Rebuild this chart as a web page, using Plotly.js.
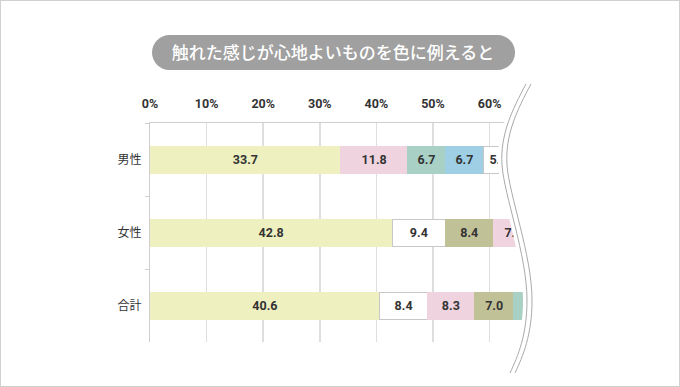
<!DOCTYPE html>
<html>
<head>
<meta charset="utf-8">
<script src="https://cdn.plot.ly/plotly-3.0.1.min.js"></script>
<style>
html,body{margin:0;padding:0;background:#fff;}
#wrap{position:relative;width:680px;height:387px;}
#chart{width:680px;height:387px;}
#frame{position:absolute;left:0;top:0;width:680px;height:387px;box-sizing:border-box;border:1px solid #d0d0d0;pointer-events:none;}
</style>
</head>
<body>
<div id="wrap"><div id="chart"></div><div id="frame"></div></div>
<script>
// ---- data ----
const titleText = '触れた感じが心地よいものを色に例えると';
const categories = ['男性', '女性', '合計'];
// segments in drawing order (largest first within each row)
const seg1Values = [33.7, 42.8, 40.6];
const seg1Colors = ['yellow', 'yellow', 'yellow'];
const seg2Values = [11.8, 9.4, 8.4];
const seg2Colors = ['pink', 'white', 'white'];
const seg3Values = [6.7, 8.4, 8.3];
const seg3Colors = ['teal', 'olive', 'pink'];
const seg4Values = [6.7, 7.2, 7.0];
const seg4Colors = ['blue', 'pink', 'olive'];
const seg5Values = [5.3, 6.0, 6.5];
const seg5Colors = ['white', 'teal', 'teal'];
const xTickValues = [0, 10, 20, 30, 40, 50, 60];

// ---- styles ----
const palette = {
  yellow: '#eef1bf',
  pink: '#efd3df',
  teal: '#a8d0c5',
  blue: '#9fcfe4',
  white: '#ffffff',
  olive: '#c1c198'
};
const FONT = 'Roboto, "Noto Sans CJK JP", sans-serif';
const L = 150, R = 130, T = 123, B = 45, W = 680, H = 387;
const PW = W - L - R, PH = H - T - B;
const px = x => (x - L) / PW;
const py = y => (H - B - y) / PH;

function segTrace(vals, cols) {
  return {
    type: 'bar',
    orientation: 'h',
    y: categories,
    x: vals,
    marker: {
      color: cols.map(c => palette[c]),
      line: {
        color: cols.map(c => c === 'white' ? '#c8c8c8' : palette[c]),
        width: 1
      }
    },
    texttemplate: '%{x:.1f}',
    textposition: 'inside',
    insidetextanchor: 'middle',
    textangle: 0,
    constraintext: 'none',
    textfont: {family: FONT, size: 12.5, color: '#333', weight: 'bold'},
    hoverinfo: 'skip',
    showlegend: false
  };
}

const data = [
  segTrace(seg1Values, seg1Colors),
  segTrace(seg2Values, seg2Colors),
  segTrace(seg3Values, seg3Colors),
  segTrace(seg4Values, seg4Colors),
  segTrace(seg5Values, seg5Colors)
];

function pathPx(cmds) {
  return cmds.map(c => {
    const pts = [];
    for (let i = 1; i < c.length; i += 2) pts.push(px(c[i]).toFixed(5) + ',' + py(c[i+1]).toFixed(5));
    return c[0] + ' ' + pts.join(' ');
  }).join(' ');
}
const shiftX = (cmds, dx) => cmds.map(c => [c[0]].concat(c.slice(1).map((v, i) => i % 2 === 0 ? v + dx : v)));

const leftWave = [
  ['M', 526, 84],
  ['C', 512, 110, 500, 135, 502, 165],
  ['C', 504, 195, 527, 255, 527, 300],
  ['C', 527, 335, 518, 356, 510, 373]
];
const rightWave = shiftX(leftWave, 5);
const whiteCover = shiftX(leftWave, -4).concat([['L', 700, 373], ['L', 700, 84]]);

// rounded pill (title background) with cubic arcs
const pr = 17.5, pX0 = 152, pX1 = 515, pY0 = 35, pY1 = 70, kk = 0.5523 * pr;
const pillCmds = [
  ['M', pX0 + pr, pY0],
  ['L', pX1 - pr, pY0],
  ['C', pX1 - pr + kk, pY0, pX1, pY0 + pr - kk, pX1, pY0 + pr],
  ['C', pX1, pY0 + pr + kk, pX1 - pr + kk, pY1, pX1 - pr, pY1],
  ['L', pX0 + pr, pY1],
  ['C', pX0 + pr - kk, pY1, pX0, pY1 - pr + kk, pX0, pY1 - pr],
  ['C', pX0, pY1 - pr - kk, pX0 + pr - kk, pY0, pX0 + pr, pY0]
];

const layout = {
  width: W, height: H,
  margin: {l: L, r: R, t: T, b: B, pad: 0},
  paper_bgcolor: '#ffffff',
  plot_bgcolor: '#ffffff',
  barmode: 'stack',
  bargap: 0.63,
  font: {family: FONT, color: '#333'},
  title: {
    text: titleText,
    xref: 'container', yref: 'container',
    x: 333 / W, y: 1 - 53 / H,
    xanchor: 'center', yanchor: 'middle',
    font: {family: '"Noto Sans CJK JP", sans-serif', size: 17, color: '#ffffff', weight: 500}
  },
  xaxis: {
    side: 'top',
    range: [0, PW / 56.6 * 10],
    tickvals: xTickValues,
    ticktext: xTickValues.map(v => v + '%'),
    showgrid: true,
    gridcolor: '#dedede',
    gridwidth: 1.5,
    zeroline: false,
    showline: true,
    linecolor: '#cfcfcf',
    linewidth: 1,
    ticks: '',
    ticklabelstandoff: 9,
    tickfont: {family: FONT, size: 12.5, color: '#333', weight: 'bold'},
    fixedrange: true
  },
  yaxis: {
    type: 'category',
    autorange: 'reversed',
    showgrid: false,
    zeroline: false,
    showline: true,
    linecolor: '#cfcfcf',
    linewidth: 1,
    ticks: 'outside',
    tickson: 'boundaries',
    ticklen: 4,
    tickcolor: '#cfcfcf',
    ticklabelstandoff: 5,
    tickfont: {family: '"Noto Sans CJK JP", sans-serif', size: 12, color: '#333'},
    fixedrange: true
  },
  shapes: [
    {type: 'path', xref: 'paper', yref: 'paper', path: pathPx(pillCmds) + ' Z', fillcolor: '#a0a0a0', line: {width: 0}, layer: 'below'},
    {type: 'path', xref: 'paper', yref: 'paper', path: pathPx(whiteCover) + ' Z', fillcolor: '#ffffff', line: {width: 0}, layer: 'above'},
    {type: 'path', xref: 'paper', yref: 'paper', path: pathPx(leftWave), line: {color: '#aaaaaa', width: 1}, layer: 'above'},
    {type: 'path', xref: 'paper', yref: 'paper', path: pathPx(rightWave), line: {color: '#aaaaaa', width: 1}, layer: 'above'}
  ]
};

Plotly.newPlot('chart', data, layout, {displayModeBar: false, staticPlot: true});
</script>
</body>
</html>
